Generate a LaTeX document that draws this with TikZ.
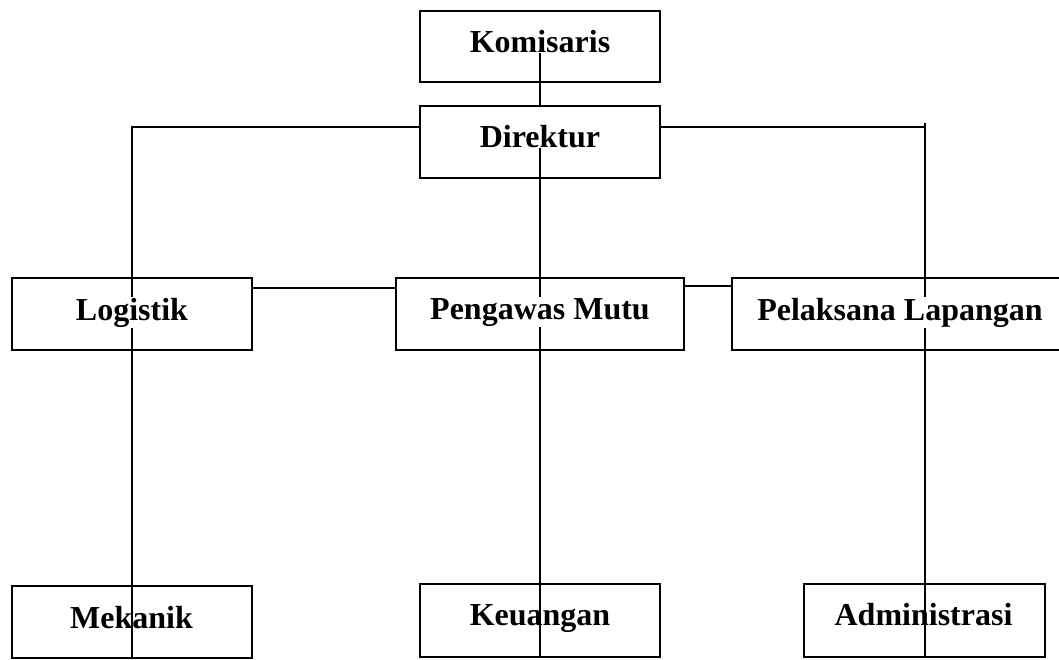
\documentclass[tikz,border=0pt]{standalone}
\usepackage{fontspec}
\setmainfont{Liberation Serif}
\begin{document}
\begin{tikzpicture}[x=1pt,y=-1pt,line width=2pt,
  orgbox/.style={draw,inner sep=0pt,minimum width=240pt,minimum height=72pt},
  boxtext/.style={anchor=base,inner sep=1pt,font=\fontsize{32}{38}\selectfont\bfseries},
  toptext/.style={boxtext,fill=white}]
\path[use as bounding box] (0,0) rectangle (1059,659);
% boxes
\node[orgbox,minimum height=71pt] (kom) at (540,46.5) {};
\node[orgbox] (dir) at (540,142) {};
\node[orgbox] (log) at (132,314) {};
\node[orgbox,minimum width=288pt] (pm) at (540,314) {};
\node[orgbox,minimum width=336pt] (pl) at (900,314) {};
\node[orgbox] (mek) at (132,622) {};
\node[orgbox,minimum height=73pt] (keu) at (540,620.5) {};
\node[orgbox,minimum width=241pt,minimum height=73pt] (adm) at (924.5,620.5) {};
% connectors
\draw (kom.center) -- (dir.north);
\draw (dir.center) -- (keu.south);
\draw ([yshift=15pt]dir.west) -| (mek.south);
\coordinate (admtop) at (924.5,123);
\draw ([yshift=15pt]dir.east) -- ([yshift=15pt]dir.east -| admtop);
\draw (admtop) -- (adm.south);
\draw ([yshift=26pt]log.east) -- ([yshift=26pt]log.east -| pm.west);
\draw ([yshift=28pt]pm.east) -- ([yshift=28pt]pm.east -| pl.west);
% texts
\node[toptext] (kom-t) at (540,52) {Komisaris};
\node[toptext] (dir-t) at (540,147) {Direktur};
\node[toptext] (log-t) at (132,320) {Logistik};
\node[toptext] (pm-t) at (540,319) {Pengawas Mutu};
\node[toptext] (pl-t) at (900,320) {Pelaksana Lapangan};
\node[boxtext] (mek-t) at (131.5,628) {Mekanik};
\node[boxtext] (keu-t) at (540,625) {Keuangan};
\node[boxtext] (adm-t) at (923.5,625) {Administrasi};
\end{tikzpicture}
\end{document}
